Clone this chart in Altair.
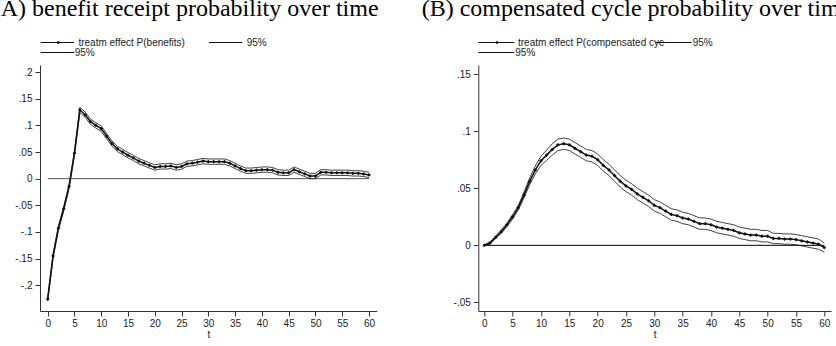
import altair as alt
import pandas as pd

# ---------------- data ----------------
t = list(range(61))

a_est = [-0.226, -0.145, -0.093, -0.056, -0.014, 0.048, 0.129, 0.120, 0.107, 0.100,
         0.094, 0.080, 0.066, 0.056, 0.050, 0.044, 0.039, 0.033, 0.029, 0.025,
         0.021, 0.023, 0.023, 0.024, 0.021, 0.023, 0.028, 0.029, 0.031, 0.033,
         0.032, 0.032, 0.032, 0.032, 0.029, 0.024, 0.019, 0.015, 0.015, 0.016,
         0.017, 0.017, 0.016, 0.012, 0.011, 0.011, 0.017, 0.013, 0.009, 0.005,
         0.005, 0.012, 0.012, 0.011, 0.011, 0.011, 0.011, 0.010, 0.010, 0.009,
         0.007]
a_lo = [-0.230, -0.149, -0.097, -0.060, -0.018, 0.044, 0.124, 0.115, 0.102, 0.095,
        0.089, 0.075, 0.061, 0.051, 0.045, 0.039, 0.034, 0.028, 0.024, 0.020,
        0.016, 0.018, 0.018, 0.019, 0.016, 0.018, 0.023, 0.024, 0.026, 0.028,
        0.027, 0.027, 0.027, 0.027, 0.024, 0.019, 0.014, 0.010, 0.010, 0.011,
        0.012, 0.012, 0.011, 0.007, 0.006, 0.006, 0.012, 0.008, 0.004, 0.000,
        0.000, 0.007, 0.007, 0.006, 0.006, 0.006, 0.006, 0.005, 0.005, 0.004,
        0.002]
a_hi = [-0.222, -0.141, -0.089, -0.052, -0.010, 0.052, 0.134, 0.125, 0.112, 0.105,
        0.099, 0.085, 0.071, 0.061, 0.055, 0.049, 0.044, 0.038, 0.034, 0.030,
        0.026, 0.028, 0.028, 0.029, 0.026, 0.028, 0.033, 0.034, 0.036, 0.038,
        0.037, 0.037, 0.037, 0.037, 0.034, 0.029, 0.024, 0.020, 0.020, 0.021,
        0.022, 0.022, 0.021, 0.017, 0.016, 0.016, 0.022, 0.018, 0.014, 0.010,
        0.010, 0.017, 0.017, 0.016, 0.016, 0.016, 0.016, 0.015, 0.015, 0.014,
        0.012]

b_est = [0.000, 0.002, 0.007, 0.012, 0.018, 0.025, 0.033, 0.044, 0.056, 0.066,
         0.074, 0.079, 0.084, 0.088, 0.089, 0.088, 0.085, 0.082, 0.079, 0.078,
         0.075, 0.070, 0.066, 0.061, 0.056, 0.052, 0.049, 0.045, 0.042, 0.039,
         0.035, 0.033, 0.030, 0.027, 0.026, 0.024, 0.023, 0.021, 0.019, 0.019,
         0.018, 0.016, 0.015, 0.014, 0.013, 0.011, 0.010, 0.009, 0.009, 0.008,
         0.008, 0.006, 0.006, 0.0055, 0.0055, 0.005, 0.004, 0.003, 0.002, 0.001,
         -0.002]
b_lo = [-0.0005, 0.001, 0.006, 0.0105, 0.0165, 0.023, 0.031, 0.0415, 0.053, 0.0625,
        0.070, 0.0745, 0.079, 0.083, 0.084, 0.083, 0.080, 0.077, 0.074, 0.073,
        0.070, 0.065, 0.061, 0.056, 0.051, 0.047, 0.044, 0.040, 0.037, 0.034,
        0.030, 0.028, 0.025, 0.022, 0.021, 0.019, 0.018, 0.016, 0.014, 0.014,
        0.013, 0.011, 0.010, 0.009, 0.008, 0.006, 0.005, 0.004, 0.004, 0.003,
        0.003, 0.0015, 0.0015, 0.001, 0.001, 0.0005, -0.0005, -0.0015, -0.0025, -0.0035,
        -0.006]
b_hi = [0.0005, 0.003, 0.008, 0.0135, 0.0195, 0.027, 0.035, 0.0465, 0.059, 0.0695,
        0.078, 0.0835, 0.089, 0.093, 0.094, 0.093, 0.090, 0.087, 0.084, 0.083,
        0.080, 0.075, 0.071, 0.066, 0.061, 0.057, 0.054, 0.050, 0.047, 0.044,
        0.040, 0.038, 0.035, 0.032, 0.031, 0.029, 0.028, 0.026, 0.024, 0.024,
        0.023, 0.021, 0.020, 0.019, 0.018, 0.016, 0.015, 0.014, 0.014, 0.013,
        0.013, 0.0105, 0.0105, 0.010, 0.010, 0.0095, 0.0085, 0.0075, 0.0065, 0.0055,
        0.002]

x_ticks = list(range(0, 61, 5))
a_yticks = [-0.2, -0.15, -0.1, -0.05, 0, 0.05, 0.1, 0.15, 0.2]
b_yticks = [-0.05, 0, 0.05, 0.1, 0.15]
zero_t = [0, 60]
zero_v = [0, 0]

SANS = "Liberation Sans"
SERIF = "Liberation Serif"
INK = "#111111"
ONE = pd.DataFrame({"k": [0]})

LABEL_EXPR = ("datum.value == 0 ? '0' : (datum.value < 0 ? '-' : '') + "
              "substring(format(abs(datum.value), '.2~f'), 1)")


def long_df(est, lo, hi):
    rows = []
    for s, arr in (("est", est), ("lo", lo), ("hi", hi)):
        for ti, v in zip(t, arr):
            rows.append({"t": ti, "v": v, "s": s})
    return pd.DataFrame(rows)


def panel(est, lo, hi, xdom, ydom, yticks, width, height, zero_color,
          title, title_dx, legend_items):
    df = long_df(est, lo, hi)
    zdf = pd.DataFrame({"t": zero_t, "v": zero_v})
    xs = alt.Scale(domain=xdom, nice=False, zero=False)
    ys = alt.Scale(domain=ydom, nice=False, zero=False)
    x_axis = alt.Axis(values=x_ticks, title="t", format="d",
                      labelOverlap=False, labelFlush=False, tickCount=13)
    y_axis = alt.Axis(values=yticks, title=None, labelExpr=LABEL_EXPR,
                      labelOverlap=False, labelFlush=False, tickCount=len(yticks))
    x_enc = alt.X("t:Q", scale=xs, axis=x_axis)
    y_enc = alt.Y("v:Q", scale=ys, axis=y_axis)

    lines = alt.Chart(df).mark_line(color=INK).encode(
        x=x_enc, y=y_enc, detail="s:N",
        strokeWidth=alt.condition("datum.s == 'est'", alt.value(1.5), alt.value(0.8)))

    zero = alt.Chart(zdf).mark_line(color=zero_color, strokeWidth=1).encode(
        x=x_enc, y=y_enc)

    pts = alt.Chart(df).transform_filter("datum.s == 'est'").mark_point(
        shape="diamond", filled=True, color=INK, size=14, opacity=1).encode(
        x=x_enc, y=y_enc)

    layers = [zero, lines, pts]

    # title
    layers.append(alt.Chart(ONE).mark_text(
        font=SERIF, fontSize=24, align="left", baseline="alphabetic", color="#000").encode(
        x=alt.value(title_dx), y=alt.value(-49), text=alt.value(title)))

    # hand-drawn Stata-style legend
    for (x0, x1, yy, marker, label, lx) in legend_items:
        layers.append(alt.Chart(ONE).mark_rule(color=INK, strokeWidth=1).encode(
            x=alt.value(x0), x2=alt.value(x1), y=alt.value(yy)))
        if marker is not None:
            layers.append(alt.Chart(ONE).mark_point(
                shape="diamond", filled=True, color=INK, size=14, opacity=1).encode(
                x=alt.value(marker), y=alt.value(yy)))
        layers.append(alt.Chart(ONE).mark_text(
            font=SANS, fontSize=10, align="left", baseline="middle", color="#222").encode(
            x=alt.value(lx), y=alt.value(yy), text=alt.value(label)))

    return alt.layer(*layers).properties(width=width, height=height)


left = panel(a_est, a_lo, a_hi, [-1.44, 61.44], [-0.2485, 0.2135], a_yticks,
             336.7, 246, "#555555",
             "(A) benefit receipt probability over time", -47.3,
             [(0.7, 34, -22.5, 18.2, "treatm effect P(benefits)", 38.4),
              (169, 202.4, -22.5, None, "95%", 206.7),
              (0.7, 34.5, -12.5, None, "95%", 34.7)])

right = panel(b_est, b_lo, b_hi, [-1.06, 61.18], [-0.0575, 0.1579], b_yticks,
              352.7, 246, "#000000",
              "(B) compensated cycle probability over time", -56.6,
              [(0, 36, -22.5, 18.7, "treatm effect P(compensated cyc", 39.7),
               (177, 213.4, -22.5, None, "95%", 214.4),
               (0, 36, -12.5, None, "95%", 37)])

chart = alt.hconcat(left, right, spacing=101.3, bounds="flush").properties(
    padding={"left": -8, "top": -3, "right": -15, "bottom": 0},
    background="white",
).configure_view(stroke=None).configure_axis(
    grid=False, labelOverlap=False, labelFlush=False,
    domainColor="#333333", domainWidth=1,
    tickColor="#333333", tickSize=5, tickWidth=1,
    labelFont=SANS, labelFontSize=10, labelColor="#222222",
    titleFont=SANS, titleFontSize=10, titleFontWeight="normal", titleColor="#222222",
).configure_axisY(labelPadding=3).configure_axisX(labelPadding=2, titlePadding=1)

chart.save("out.html", embed_options={"renderer": "svg", "actions": False})
